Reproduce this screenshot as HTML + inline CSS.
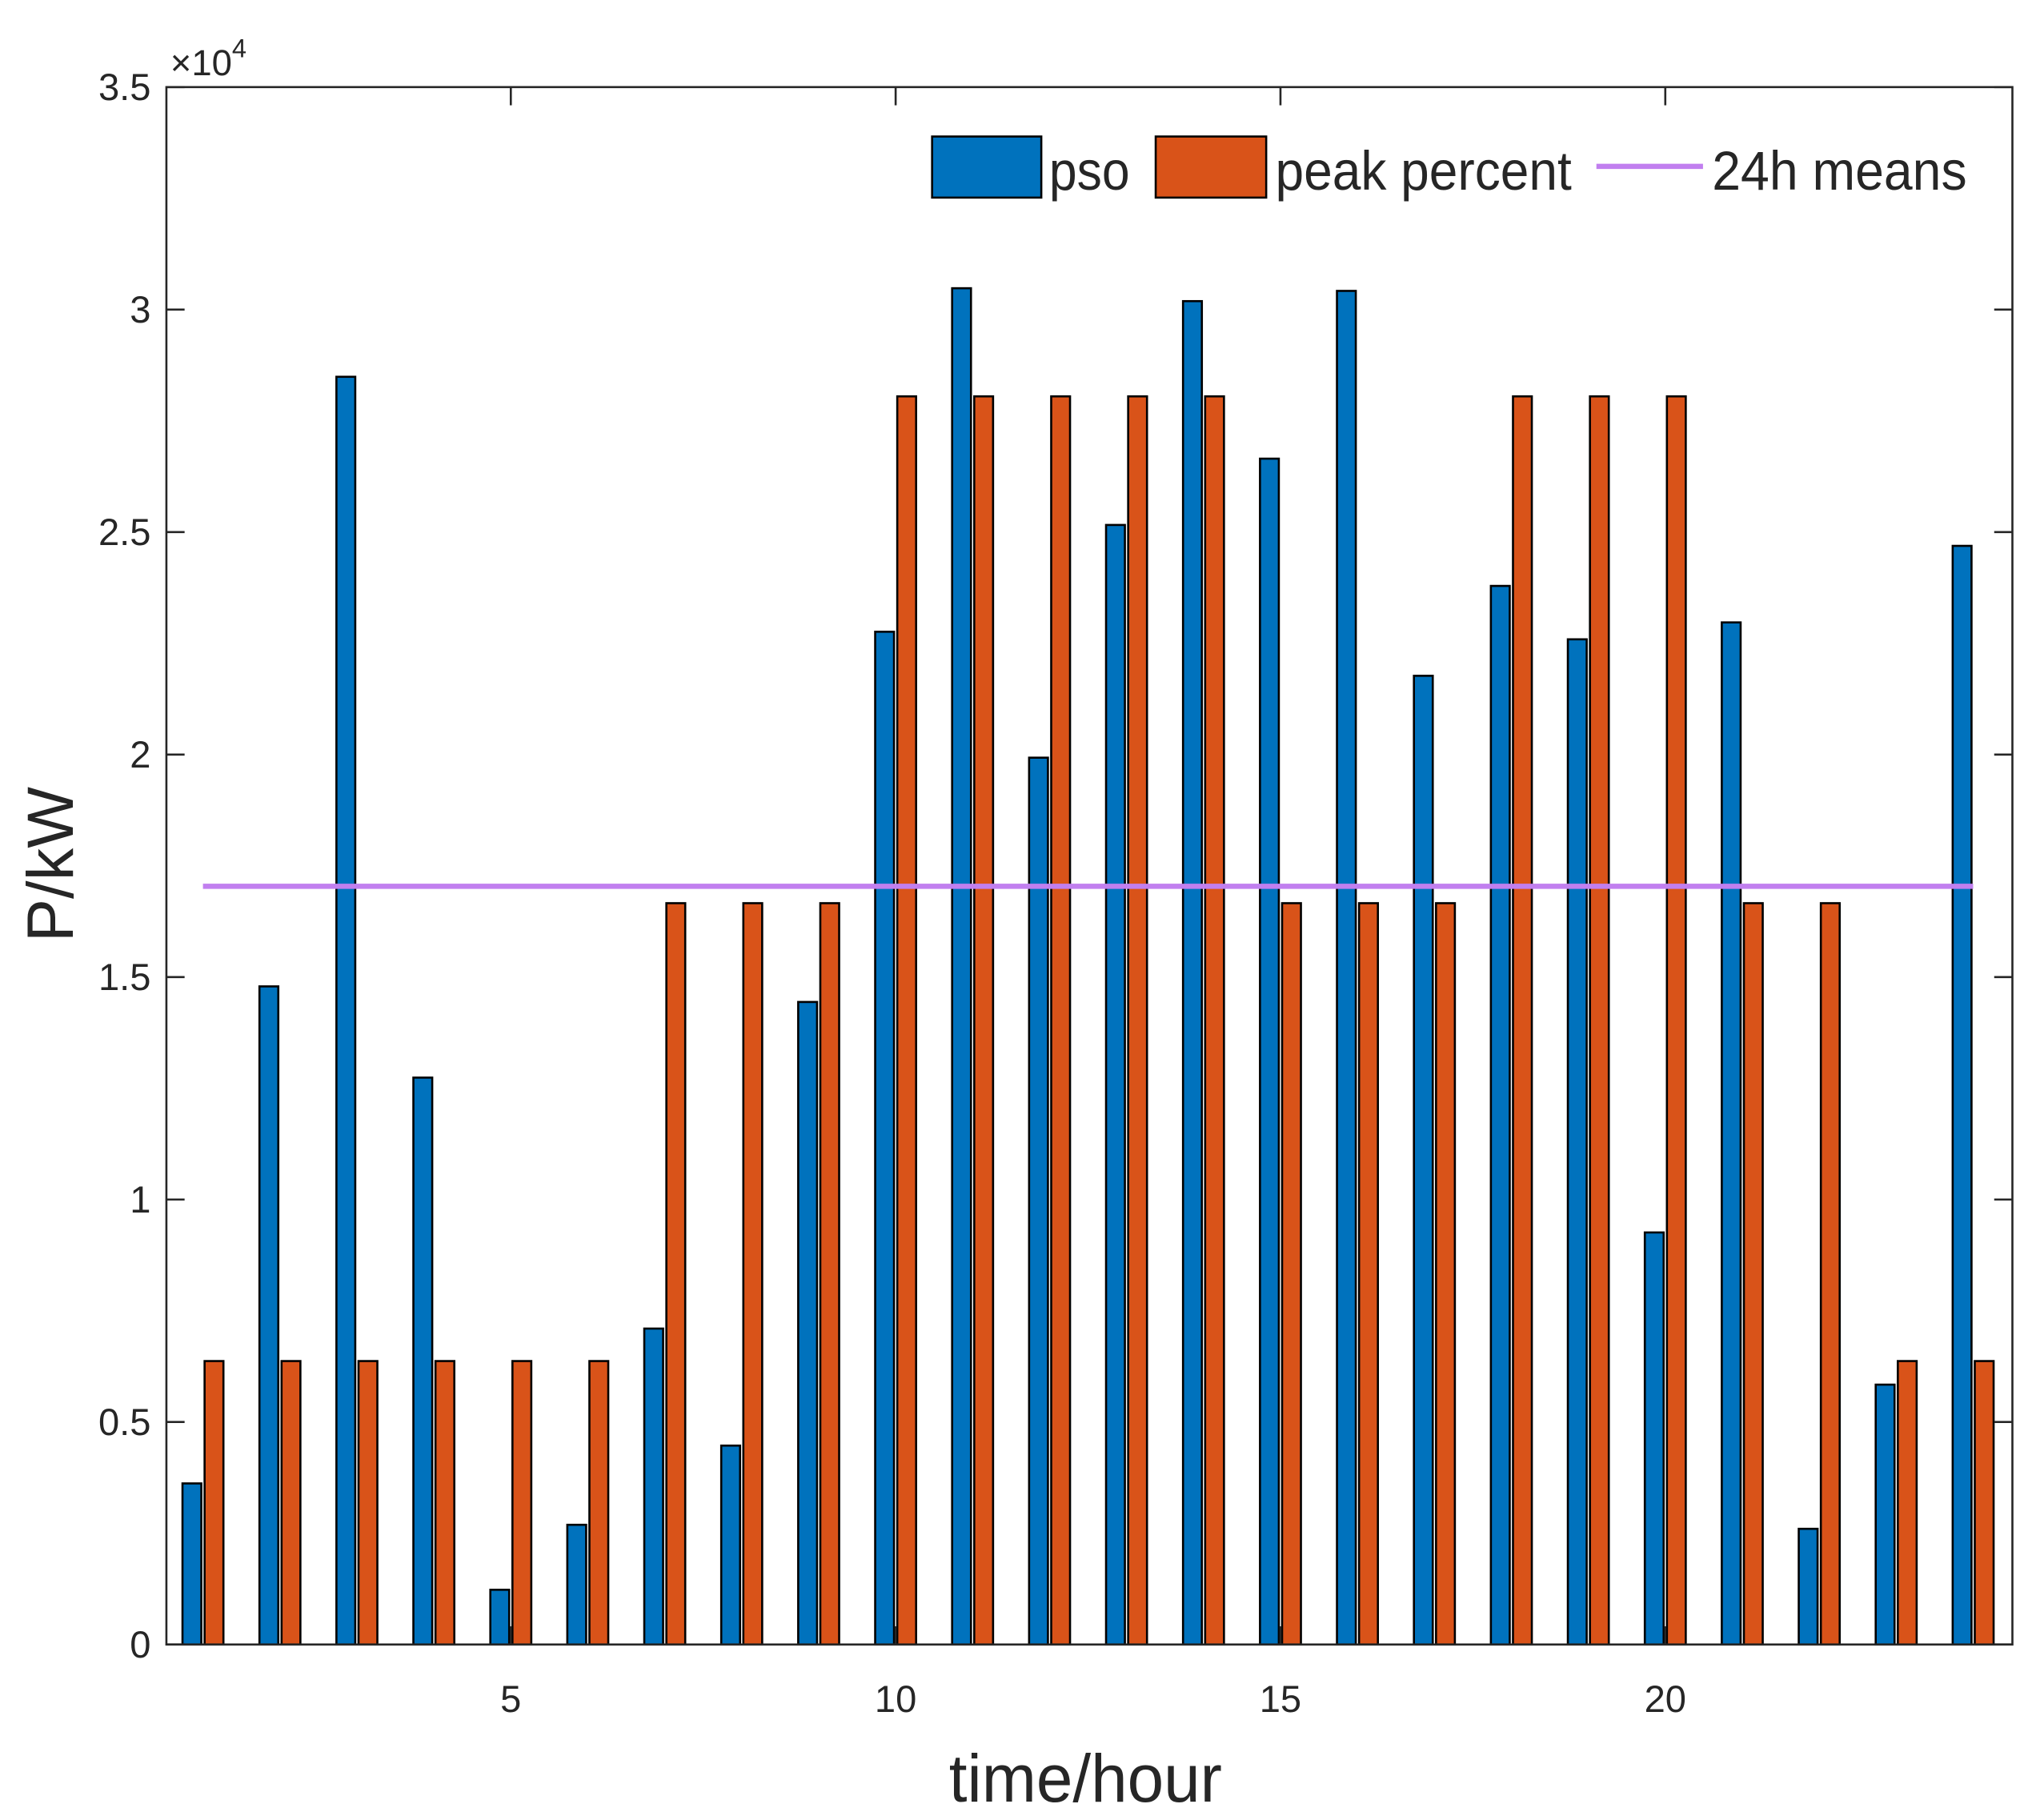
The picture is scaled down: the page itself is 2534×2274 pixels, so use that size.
<!DOCTYPE html>
<html><head><meta charset="utf-8"><style>
html,body{margin:0;padding:0;background:#fff;}
svg{display:block;}
text{font-family:"Liberation Sans Narrow","Liberation Sans",sans-serif;fill:#262626;}
</style></head><body>
<svg id="chart" width="2534" height="2274" viewBox="0 0 1560 1400" preserveAspectRatio="none" xmlns="http://www.w3.org/2000/svg"></svg>
<script>
const hours = [1,2,3,4,5,6,7,8,9,10,11,12,13,14,15,16,17,18,19,20,21,22,23,24];
const psoValues = [3620,14790,28490,12740,1230,2690,7100,4470,14440,22760,30480,19930,25160,30190,26650,30420,21770,23790,22590,9260,22970,2600,5840,24690];
const peakValues = [6370,6370,6370,6370,6370,6370,16660,16660,16660,28050,28050,28050,28050,28050,16660,16660,16660,28050,28050,28050,16660,16660,6370,6370];
const meanValue = [17040];
const yTicks = [0,5000,10000,15000,20000,25000,30000,35000];
const yTickLabels = ['0','0.5','1','1.5','2','2.5','3','3.5'];
const xTicks = [5,10,15,20];
const xTickLabels = ['5','10','15','20'];

const L=128,R=1548,T=67,B=1265;
const xMin=0.525,xMax=24.51,yMin=0,yMax=35000;
const xs=v=>L+(v-xMin)/(xMax-xMin)*(R-L);
const ys=v=>B-(v-yMin)/(yMax-yMin)*(B-T);
const NS='http://www.w3.org/2000/svg';
const svg=document.getElementById('chart');
function mk(tag,attrs,parent){const e=document.createElementNS(NS,tag);for(const k in attrs)e.setAttribute(k,attrs[k]);(parent||svg).appendChild(e);return e;}

const bw=14.5, off=8.5;
const barsG=mk('g',{});


hours.forEach((h,i)=>{
  const cx=xs(h);
  const b=mk('rect',{x:cx-off-bw/2,y:ys(psoValues[i]),width:bw,height:ys(0)-ys(psoValues[i]),fill:'#0072BD',stroke:'#000','stroke-width':1.6},barsG);
  
  
  const o=mk('rect',{x:cx+off-bw/2,y:ys(peakValues[i]),width:bw,height:ys(0)-ys(peakValues[i]),fill:'#D95319',stroke:'#000','stroke-width':1.6},barsG);
  
  
});
const ml=mk('line',{x1:xs(hours[0]),x2:xs(hours[hours.length-1]),y1:ys(meanValue[0]),y2:ys(meanValue[0]),stroke:'#C17FEF','stroke-width':4});



const ax=mk('rect',{x:L,y:T,width:R-L,height:B-T,fill:'none',stroke:'#262626','stroke-width':1.6});


const tl=14;
yTicks.forEach((v,i)=>{
  const y=ys(v);
  mk('line',{x1:L,x2:L+tl,y1:y,y2:y,stroke:'#262626','stroke-width':1.6});
  mk('line',{x1:R,x2:R-tl,y1:y,y2:y,stroke:'#262626','stroke-width':1.6});
  const t=mk('text',{x:L-12,y:y+10,'text-anchor':'end','font-size':29});
  t.textContent=yTickLabels[i];
  
  
});
xTicks.forEach((v,i)=>{
  const x=xs(v);
  mk('line',{x1:x,x2:x,y1:B,y2:B-tl,stroke:'#262626','stroke-width':1.6});
  mk('line',{x1:x,x2:x,y1:T,y2:T+tl,stroke:'#262626','stroke-width':1.6});
  const t=mk('text',{x:x,y:B+52,'text-anchor':'middle','font-size':29});
  t.textContent=xTickLabels[i];
  
  
});
</script>
<script>
(function(){
const NS='http://www.w3.org/2000/svg';const svg=document.getElementById('chart');
function mk(tag,attrs,parent){const e=document.createElementNS(NS,tag);for(const k in attrs)e.setAttribute(k,attrs[k]);(parent||svg).appendChild(e);return e;}
const ex=mk('text',{x:131,y:58,'font-size':28});
ex.innerHTML='×10<tspan dy="-14" font-size="20">4</tspan>';


const yl=mk('text',{x:0,y:0,'font-size':50,'text-anchor':'middle',transform:'translate(56,665) rotate(-90)'});
yl.textContent='P/kW';


const xl=mk('text',{x:835,y:1386,'font-size':52,'text-anchor':'middle',textLength:210,lengthAdjust:'spacingAndGlyphs'});
xl.textContent='time/hour';


const lg=mk('g',{});


const r1=mk('rect',{x:717,y:105,width:84,height:47,fill:'#0072BD',stroke:'#000','stroke-width':1.6},lg);


const t1=mk('text',{x:807,y:146,'font-size':42,fill:'#000',textLength:62,lengthAdjust:'spacingAndGlyphs'},lg);
t1.textContent='pso';


const r2=mk('rect',{x:889,y:105,width:85,height:47,fill:'#D95319',stroke:'#000','stroke-width':1.6},lg);


const t2=mk('text',{x:981,y:146,'font-size':42,fill:'#000',textLength:228,lengthAdjust:'spacingAndGlyphs'},lg);
t2.textContent='peak percent';


const l3=mk('line',{x1:1228,x2:1310,y1:128,y2:128,stroke:'#C17FEF','stroke-width':4},lg);


const t3=mk('text',{x:1317,y:146,'font-size':42,fill:'#000',textLength:196,lengthAdjust:'spacingAndGlyphs'},lg);
t3.textContent='24h means';


})();
</script>
</body></html>
